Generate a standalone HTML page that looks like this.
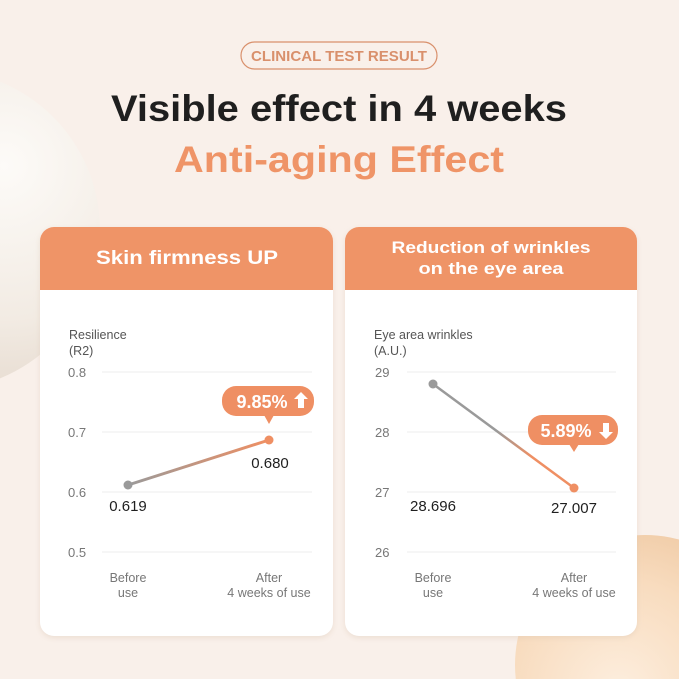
<!DOCTYPE html>
<html><head><meta charset="utf-8"><style>
html,body{margin:0;padding:0;width:679px;height:679px;overflow:hidden;background:#f9f0ea}
svg{display:block}
text{font-family:"Liberation Sans",sans-serif}
</style></head><body>
<svg width="679" height="679" viewBox="0 0 679 679" xmlns="http://www.w3.org/2000/svg">
<defs>
<radialGradient id="p1" cx="0.7" cy="0.3" r="0.8"><stop offset="0" stop-color="#fdfbf8"/><stop offset="0.6" stop-color="#f2ebe3"/><stop offset="1" stop-color="#e3d6ca"/></radialGradient>
<radialGradient id="p2" cx="0.4" cy="0.6" r="0.7"><stop offset="0" stop-color="#fdeede"/><stop offset="0.6" stop-color="#f8dcbf"/><stop offset="1" stop-color="#efc9a3"/></radialGradient>
<linearGradient id="g1" x1="0" y1="0" x2="1" y2="0"><stop offset="0" stop-color="#9a9a9a"/><stop offset="1" stop-color="#ef8f63"/></linearGradient>
<linearGradient id="g2" x1="0" y1="0" x2="1" y2="0"><stop offset="0" stop-color="#9a9a9a"/><stop offset="0.45" stop-color="#9a9a9a"/><stop offset="0.7" stop-color="#ef8f63"/><stop offset="1" stop-color="#ef8f63"/></linearGradient>
<filter id="sh" x="-10%" y="-10%" width="120%" height="120%"><feDropShadow dx="0" dy="2" stdDeviation="3" flood-color="#d9c3b0" flood-opacity="0.4"/></filter>
</defs>
<circle cx="-60" cy="230" r="160" fill="url(#p1)"/>
<circle cx="645" cy="665" r="130" fill="url(#p2)"/>
<rect x="241" y="42" width="196" height="27" rx="13.5" fill="none" stroke="#d9906c" stroke-width="1.2"/>
<text x="339" y="61" text-anchor="middle" font-size="15" fill="#d9906c" font-weight="bold" textLength="176" lengthAdjust="spacingAndGlyphs">CLINICAL TEST RESULT</text>
<text x="339" y="121" text-anchor="middle" font-size="37" font-weight="bold" fill="#1f1f1f" textLength="456" lengthAdjust="spacingAndGlyphs">Visible effect in 4 weeks</text>
<text x="339" y="172" text-anchor="middle" font-size="37" font-weight="bold" fill="#ef9467" textLength="330" lengthAdjust="spacingAndGlyphs">Anti-aging Effect</text>

<g filter="url(#sh)">
<rect x="40" y="227" width="293" height="409" rx="14" fill="#fff"/>
<rect x="345" y="227" width="292" height="409" rx="14" fill="#fff"/>
</g>
<path d="M40 290 V241 a14 14 0 0 1 14 -14 H319 a14 14 0 0 1 14 14 V290 Z" fill="#ef9467"/>
<path d="M345 290 V241 a14 14 0 0 1 14 -14 H623 a14 14 0 0 1 14 14 V290 Z" fill="#ef9467"/>
<text x="187" y="264" text-anchor="middle" font-size="19" font-weight="bold" fill="#fff" textLength="182" lengthAdjust="spacingAndGlyphs">Skin firmness UP</text>
<text x="491" y="253" text-anchor="middle" font-size="17" font-weight="bold" fill="#fff" textLength="199" lengthAdjust="spacingAndGlyphs">Reduction of wrinkles</text>
<text x="491" y="274" text-anchor="middle" font-size="17" font-weight="bold" fill="#fff" textLength="145" lengthAdjust="spacingAndGlyphs">on the eye area</text>

<g font-size="12.5" fill="#555">
<text x="69" y="339">Resilience</text><text x="69" y="355">(R2)</text>
<text x="374" y="339">Eye area wrinkles</text><text x="374" y="355">(A.U.)</text>
</g>
<g stroke="#ececec" stroke-width="1">
<line x1="102" y1="372" x2="312" y2="372"/><line x1="102" y1="432" x2="312" y2="432"/><line x1="102" y1="492" x2="312" y2="492"/><line x1="102" y1="552" x2="312" y2="552"/>
<line x1="407" y1="372" x2="616" y2="372"/><line x1="407" y1="432" x2="616" y2="432"/><line x1="407" y1="492" x2="616" y2="492"/><line x1="407" y1="552" x2="616" y2="552"/>
</g>
<g font-size="13" fill="#777">
<text x="68" y="377">0.8</text><text x="68" y="437">0.7</text><text x="68" y="497">0.6</text><text x="68" y="557">0.5</text>
<text x="375" y="377">29</text><text x="375" y="437">28</text><text x="375" y="497">27</text><text x="375" y="557">26</text>
</g>
<line x1="128" y1="485" x2="269" y2="440" stroke="url(#g1)" stroke-width="3"/>
<circle cx="128" cy="485" r="4.5" fill="#9a9a9a"/><circle cx="269" cy="440" r="4.5" fill="#ef8f63"/>
<line x1="433" y1="384" x2="574" y2="488" stroke="url(#g2)" stroke-width="2.5"/>
<circle cx="433" cy="384" r="4.5" fill="#9a9a9a"/><circle cx="574" cy="488" r="4.5" fill="#ef8f63"/>

<rect x="222" y="386" width="92" height="30" rx="14" fill="#ef8f63"/>
<path d="M264 415 L269 424 L274 415 Z" fill="#ef8f63"/>
<text x="262" y="408" text-anchor="middle" font-size="18" font-weight="bold" fill="#fff">9.85%</text>
<path d="M301 392 l-7 7 h4 v9 h6 v-9 h4 Z" fill="#fff"/>
<rect x="528" y="415" width="90" height="30" rx="14" fill="#ef8f63"/>
<path d="M569 444 L574 452 L579 444 Z" fill="#ef8f63"/>
<text x="566" y="437" text-anchor="middle" font-size="18" font-weight="bold" fill="#fff">5.89%</text>
<path d="M606 439 l-7 -7 h4 v-9 h6 v9 h4 Z" fill="#fff"/>

<g font-size="15" fill="#1f1f1f" text-anchor="middle">
<text x="128" y="511">0.619</text><text x="270" y="468">0.680</text>
<text x="433" y="511">28.696</text><text x="574" y="513">27.007</text>
</g>
<g font-size="12.5" fill="#777" text-anchor="middle">
<text x="128" y="582">Before</text><text x="128" y="597">use</text>
<text x="269" y="582">After</text><text x="269" y="597">4 weeks of use</text>
<text x="433" y="582">Before</text><text x="433" y="597">use</text>
<text x="574" y="582">After</text><text x="574" y="597">4 weeks of use</text>
</g>
</svg>
</body></html>
